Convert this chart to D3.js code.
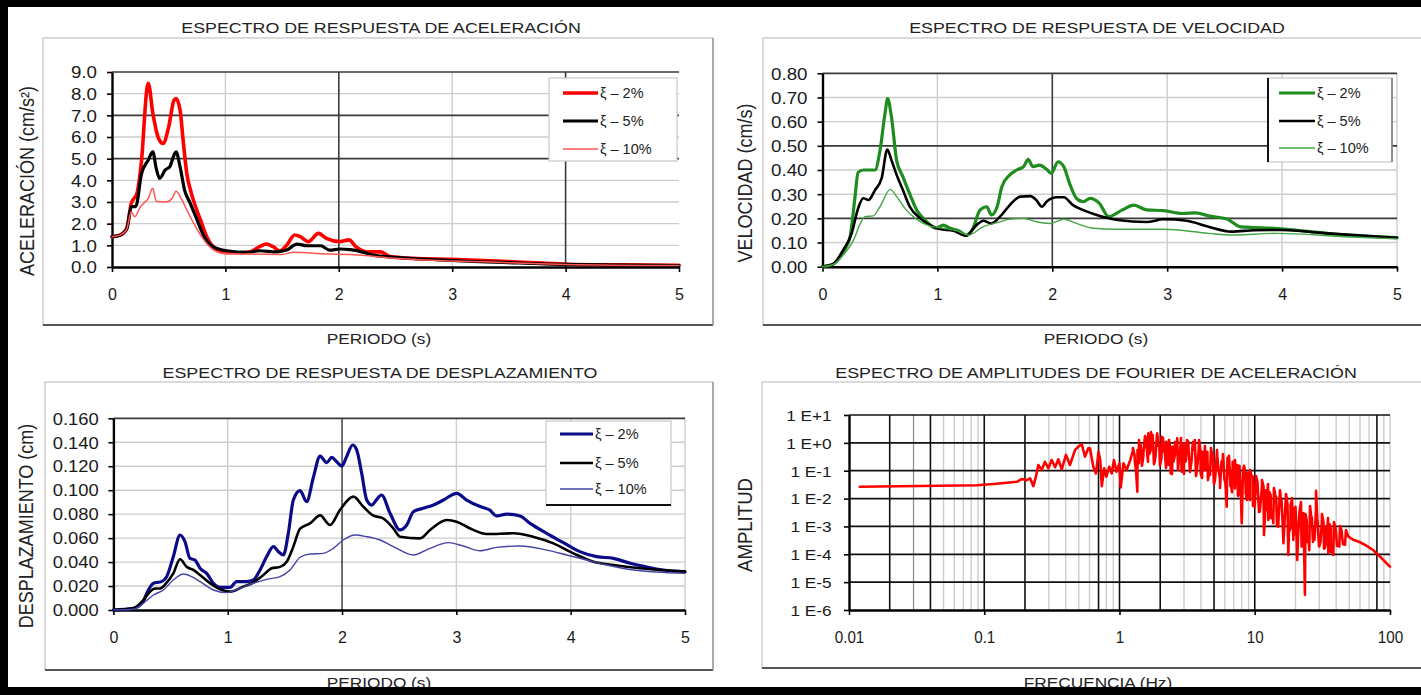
<!DOCTYPE html>
<html>
<head>
<meta charset="utf-8">
<script src="https://cdn.jsdelivr.net/npm/d3@7"></script>
<style>
  html, body { margin: 0; padding: 0; background: #fff; }
  svg { display: block; }
  text { font-family: "Liberation Sans", Arial, sans-serif; fill: #1c1c1c; }
</style>
</head>
<body>
<svg id="chart" width="1421" height="695"></svg>
<script>
// ---------------- data ----------------
const periodTicks = [0, 1, 2, 3, 4, 5];
const periodTickLabels = ["0", "1", "2", "3", "4", "5"];
const accTicks = [0, 1, 2, 3, 4, 5, 6, 7, 8, 9];
const accTickLabels = ["0.0", "1.0", "2.0", "3.0", "4.0", "5.0", "6.0", "7.0", "8.0", "9.0"];
const velTicks = [0, 0.1, 0.2, 0.3, 0.4, 0.5, 0.6, 0.7, 0.8];
const velTickLabels = ["0.00", "0.10", "0.20", "0.30", "0.40", "0.50", "0.60", "0.70", "0.80"];
const disTicks = [0, 0.02, 0.04, 0.06, 0.08, 0.10, 0.12, 0.14, 0.16];
const disTickLabels = ["0.000", "0.020", "0.040", "0.060", "0.080", "0.100", "0.120", "0.140", "0.160"];
const freqTicks = [0.01, 0.1, 1, 10, 100];
const freqTickLabels = ["0.01", "0.1", "1", "10", "100"];
const ampTicks = [1e-6, 1e-5, 1e-4, 1e-3, 1e-2, 1e-1, 1, 10];
const ampTickLabels = ["1 E-6", "1 E-5", "1 E-4", "1 E-3", "1 E-2", "1 E-1", "1 E+0", "1 E+1"];
const dampingLabels = ["ξ – 2%", "ξ – 5%", "ξ – 10%"];

// Spectral acceleration (cm/s²) vs period (s)
const acc2 = [[0,1.40],[0.07,1.47],[0.13,1.78],[0.17,2.94],[0.22,3.4],[0.26,4.9],[0.31,8.3],[0.32,8.48],[0.36,7.1],[0.41,5.94],[0.45,5.7],[0.50,6.47],[0.547,7.7],[0.565,7.78],[0.60,7.25],[0.63,5.7],[0.66,4.3],[0.70,3.4],[0.78,2.17],[0.835,1.4],[0.91,0.86],[1.01,0.66],[1.13,0.66],[1.22,0.7],[1.30,0.94],[1.36,1.06],[1.42,0.94],[1.48,0.74],[1.54,1.0],[1.61,1.48],[1.66,1.40],[1.73,1.17],[1.82,1.55],[1.89,1.32],[2.01,1.17],[2.09,1.25],[2.15,0.94],[2.25,0.7],[2.37,0.7],[2.45,0.48],[2.65,0.4],[3.0,0.35],[3.5,0.25],[4.0,0.13],[4.5,0.1],[5.0,0.08]];
const acc5 = [[0,1.40],[0.07,1.47],[0.13,1.75],[0.17,2.78],[0.21,2.8],[0.26,4.3],[0.32,4.94],[0.36,5.32],[0.39,4.55],[0.42,4.09],[0.47,4.48],[0.51,4.63],[0.547,5.17],[0.565,5.32],[0.60,4.63],[0.64,3.55],[0.69,2.94],[0.75,2.17],[0.805,1.48],[0.89,0.94],[1.01,0.75],[1.2,0.68],[1.30,0.75],[1.45,0.7],[1.54,0.78],[1.63,1.06],[1.72,0.98],[1.84,0.98],[1.92,0.78],[2.01,0.83],[2.1,0.8],[2.2,0.7],[2.3,0.55],[2.5,0.45],[3.0,0.3],[3.5,0.2],[4.0,0.12],[5.0,0.07]];
const acc10 = [[0,1.40],[0.07,1.47],[0.13,1.75],[0.17,2.55],[0.20,2.32],[0.25,2.78],[0.32,3.17],[0.36,3.63],[0.39,3.02],[0.48,3.0],[0.53,3.17],[0.565,3.5],[0.61,3.17],[0.66,2.63],[0.72,2.02],[0.78,1.48],[0.86,0.94],[0.98,0.63],[1.2,0.6],[1.5,0.58],[1.6,0.68],[1.9,0.6],[2.1,0.58],[2.3,0.5],[2.5,0.4],[3.0,0.28],[3.5,0.2],[4.0,0.12],[5.0,0.07]];

// Spectral velocity (cm/s) vs period (s)
const vel2 = [[0,0],[0.09,0.01],[0.18,0.06],[0.24,0.124],[0.28,0.276],[0.31,0.39],[0.355,0.40],[0.457,0.40],[0.50,0.48],[0.544,0.634],[0.567,0.695],[0.60,0.62],[0.645,0.44],[0.70,0.372],[0.76,0.30],[0.82,0.234],[0.906,0.186],[0.99,0.159],[1.05,0.172],[1.11,0.159],[1.20,0.145],[1.25,0.131],[1.31,0.159],[1.37,0.234],[1.43,0.248],[1.47,0.214],[1.52,0.248],[1.56,0.33],[1.63,0.38],[1.69,0.40],[1.75,0.414],[1.79,0.444],[1.83,0.414],[1.89,0.42],[1.95,0.403],[1.99,0.386],[2.05,0.434],[2.10,0.414],[2.15,0.345],[2.21,0.283],[2.27,0.269],[2.33,0.283],[2.41,0.262],[2.49,0.207],[2.61,0.235],[2.71,0.255],[2.82,0.235],[2.97,0.232],[3.13,0.22],[3.25,0.223],[3.36,0.21],[3.52,0.197],[3.64,0.165],[3.96,0.158],[4.55,0.131],[5.0,0.12]];
const vel5 = [[0,0],[0.09,0.01],[0.18,0.069],[0.254,0.138],[0.31,0.241],[0.355,0.283],[0.40,0.276],[0.457,0.317],[0.515,0.366],[0.564,0.485],[0.60,0.441],[0.645,0.38],[0.70,0.317],[0.76,0.248],[0.85,0.20],[0.936,0.172],[1.02,0.156],[1.14,0.149],[1.25,0.128],[1.34,0.172],[1.40,0.19],[1.47,0.179],[1.545,0.207],[1.63,0.255],[1.72,0.29],[1.81,0.292],[1.86,0.276],[1.91,0.248],[1.95,0.269],[2.04,0.287],[2.10,0.287],[2.18,0.255],[2.27,0.234],[2.36,0.218],[2.49,0.20],[2.57,0.193],[2.82,0.185],[2.97,0.196],[3.17,0.19],[3.36,0.165],[3.56,0.145],[3.76,0.151],[4.0,0.152],[4.36,0.139],[5.0,0.12]];
const vel10 = [[0,0],[0.09,0.008],[0.18,0.048],[0.27,0.11],[0.33,0.179],[0.37,0.207],[0.44,0.21],[0.50,0.248],[0.59,0.32],[0.645,0.29],[0.73,0.234],[0.82,0.196],[0.936,0.168],[1.05,0.159],[1.17,0.148],[1.27,0.131],[1.40,0.166],[1.52,0.182],[1.63,0.197],[1.75,0.20],[1.86,0.186],[1.98,0.179],[2.10,0.196],[2.21,0.179],[2.36,0.159],[2.57,0.155],[2.97,0.155],[3.36,0.138],[3.56,0.131],[3.96,0.138],[4.55,0.124],[5.0,0.115]];

// Spectral displacement (cm) vs period (s)
const dis2 = [[0,0],[0.174,0.0014],[0.25,0.0056],[0.306,0.0167],[0.35,0.0223],[0.42,0.0237],[0.466,0.0278],[0.524,0.0445],[0.583,0.0626],[0.626,0.057],[0.67,0.043],[0.714,0.0417],[0.758,0.0348],[0.816,0.0306],[0.875,0.0223],[0.933,0.0189],[1.02,0.0189],[1.078,0.0237],[1.166,0.0237],[1.224,0.025],[1.283,0.0334],[1.34,0.0445],[1.40,0.0529],[1.443,0.0487],[1.487,0.046],[1.53,0.064],[1.574,0.0918],[1.633,0.0996],[1.69,0.0904],[1.75,0.111],[1.808,0.1285],[1.866,0.123],[1.91,0.1274],[1.953,0.1238],[1.997,0.120],[2.04,0.128],[2.093,0.1377],[2.128,0.1336],[2.172,0.114],[2.216,0.0918],[2.26,0.0876],[2.30,0.0918],[2.345,0.096],[2.42,0.0807],[2.507,0.0668],[2.566,0.071],[2.624,0.082],[2.71,0.0849],[2.80,0.0876],[2.887,0.0918],[3.003,0.0974],[3.09,0.0918],[3.208,0.0863],[3.29,0.0835],[3.353,0.0785],[3.44,0.080],[3.557,0.0785],[3.645,0.0723],[3.79,0.064],[3.936,0.0562],[4.08,0.0487],[4.228,0.0445],[4.374,0.0431],[4.52,0.039],[4.66,0.036],[4.81,0.0334],[5.0,0.032]];
const dis5 = [[0,0],[0.174,0.0014],[0.262,0.0083],[0.32,0.0153],[0.364,0.018],[0.408,0.018],[0.466,0.0228],[0.524,0.0306],[0.583,0.0423],[0.641,0.036],[0.70,0.0334],[0.758,0.0292],[0.845,0.0223],[0.933,0.0173],[1.02,0.0153],[1.137,0.0195],[1.224,0.0228],[1.312,0.0292],[1.385,0.0348],[1.458,0.036],[1.516,0.0403],[1.574,0.0529],[1.633,0.068],[1.72,0.0723],[1.808,0.079],[1.895,0.071],[1.982,0.0835],[2.099,0.0946],[2.186,0.0863],[2.27,0.079],[2.36,0.0765],[2.45,0.068],[2.507,0.0612],[2.682,0.0598],[2.77,0.0668],[2.916,0.0751],[3.003,0.0737],[3.12,0.068],[3.266,0.0634],[3.5,0.064],[3.67,0.0612],[3.849,0.0556],[4.024,0.0473],[4.2,0.0403],[4.374,0.0376],[4.607,0.0348],[5.0,0.032]];
const dis10 = [[0,0],[0.174,0.0006],[0.262,0.0056],[0.35,0.0125],[0.437,0.0167],[0.524,0.025],[0.612,0.030],[0.685,0.0278],[0.758,0.0237],[0.875,0.0167],[0.99,0.0145],[1.107,0.018],[1.224,0.0223],[1.34,0.0256],[1.458,0.0278],[1.545,0.0334],[1.633,0.044],[1.72,0.0467],[1.836,0.0473],[1.924,0.0515],[2.01,0.0584],[2.114,0.0626],[2.216,0.0612],[2.333,0.0584],[2.449,0.0529],[2.624,0.0459],[2.77,0.0515],[2.93,0.0562],[3.06,0.0534],[3.208,0.0495],[3.353,0.0523],[3.557,0.0534],[3.79,0.050],[3.966,0.0459],[4.14,0.0417],[4.316,0.0376],[4.549,0.0334],[5.0,0.0306]];

// Fourier amplitude spectrum of acceleration: [frequency (Hz), amplitude]
const fourierCoarse = [[0.012,0.0267],[0.0335,0.0283],[0.088,0.030],[0.117,0.0333],[0.147,0.037],[0.174,0.040],[0.189,0.050],[0.206,0.046],[0.218,0.053],[0.231,0.028],[0.241,0.061],[0.251,0.16],[0.266,0.106],[0.281,0.21],[0.298,0.122],[0.315,0.243],[0.334,0.133],[0.353,0.257],[0.374,0.112],[0.402,0.37],[0.43,0.16],[0.469,0.55],[0.496,0.73],[0.526,0.89],[0.556,0.32],[0.588,0.64],[0.605,0.64],[0.64,0.139],[0.67,0.080],[0.70,0.48],[0.72,0.24],[0.74,0.028],[0.77,0.122],[0.80,0.061],[0.84,0.139],[0.875,0.080],[0.91,0.24],[0.95,0.092],[1.0,0.185],[1.02,0.025],[1.07,0.185],[1.13,0.106],[1.2,0.24],[1.25,0.48],[1.30,0.21],[1.355,0.0177],[1.39,0.185],[1.435,0.84],[1.50,0.32],[1.57,1.46],[1.63,2.2],[1.70,0.55],[1.76,1.9],[1.83,0.24],[1.90,2.2],[1.97,0.73],[2.05,1.66],[2.13,0.48],[2.21,1.1],[2.30,0.16],[2.39,0.080],[2.47,0.73],[2.57,0.37],[2.67,1.46],[2.77,0.32],[2.88,0.092],[3.0,0.96],[3.1,0.24],[3.23,1.1],[3.36,0.139],[3.48,0.96],[3.61,1.27],[3.72,0.092],[3.85,0.55],[3.98,0.080],[4.12,0.48],[4.29,0.106],[4.46,0.48],[4.67,0.070],[4.89,0.37],[5.08,0.046],[5.29,0.32],[5.53,0.053],[5.79,0.24],[6.03,0.046],[6.2,0.0051],[6.38,0.24],[6.64,0.040],[6.87,0.21],[7.14,0.023],[7.43,0.16],[7.69,0.0155],[8.01,0.0013],[8.23,0.106],[8.57,0.0155],[8.87,0.080],[9.22,0.0089],[9.66,0.061],[10.0,0.0051],[10.4,0.046],[10.9,0.0034],[11.3,0.027],[11.7,0.00049],[12.1,0.020],[12.6,0.0017],[13.1,0.0135],[13.7,0.0013],[14.4,0.0117],[14.9,0.00098],[15.6,0.0089],[16.3,0.00025],[16.9,0.0077],[17.7,0.000094],[18.4,0.0059],[19.3,0.00033],[20.0,0.0051],[20.6,0.000062],[21.4,0.0034],[22.2,0.00019],[22.9,0.003],[23.5,0.0000035],[24.2,0.0017],[25.3,0.00014],[26.4,0.0022],[27.4,0.00043],[28.4,0.019],[29.0,0.0017],[30.0,0.00019],[31.3,0.0013],[32.5,0.00016],[33.6,0.00098],[35.0,0.00011],[36.5,0.00086],[38.1,0.000094],[39.9,0.00065],[42.2,0.00019],[44.0,0.00057],[46.5,0.00022],[49.2,0.00043],[53.6,0.00033],[60.0,0.00027],[67.3,0.00020],[75.3,0.00014],[84.4,0.000082],[91.8,0.000054],[100,0.000036]];
// finer readings across the dense 1.2–50 Hz band
const fourierFine = [[1.258,0.65],[1.324,0.106],[1.393,1.27],[1.466,0.15],[1.543,1.76],[1.624,0.21],[1.709,2.45],[1.799,0.17],[1.893,2.08],[1.992,0.15],[2.097,1.49],[2.207,0.125],[2.322,1.27],[2.444,0.076],[2.572,1.07],[2.707,0.106],[2.849,1.49],[2.998,0.076],[3.155,1.27],[3.320,0.090],[3.494,1.07],[3.677,0.065],[3.870,1.27],[4.073,0.055],[4.286,0.77],[4.511,0.046],[4.747,0.65],[4.996,0.033],[5.258,0.55],[5.533,0.024],[5.823,0.40],[6.128,0.020],[6.449,0.34],[6.787,0.017],[7.143,0.24],[7.517,0.0124],[7.911,0.0105],[8.326,0.15],[8.762,0.0089],[9.221,0.106],[9.704,0.0054],[10.21,0.065],[10.75,0.0033],[11.31,0.046],[11.90,0.0022],[12.53,0.033],[13.18,0.0020],[13.87,0.024],[14.60,0.00103],[15.37,0.020],[16.17,0.0007],[17.02,0.0146],[17.91,0.00063],[18.85,0.0105],[19.84,0.00053],[20.88,0.00038],[21.97,0.0075],[23.12,0.00033],[24.33,0.00028],[25.61,0.0054],[26.95,0.00028],[28.36,0.0039],[29.85,0.00020],[31.41,0.0028],[33.06,0.00017],[34.79,0.0020],[36.61,0.00012],[38.53,0.00144],[40.55,0.00020],[42.67,0.00103],[44.91,0.00023],[47.26,0.00074]];
// mid-band readings between the upper and lower edges of the band
const fourierMid = [[1.291,0.37],[1.359,0.55],[1.429,0.29],[1.504,0.47],[1.583,0.77],[1.666,0.40],[1.753,0.91],[1.846,0.34],[1.942,0.77],[2.044,0.29],[2.151,0.65],[2.264,0.24],[2.382,0.55],[2.507,0.21],[2.639,0.65],[2.777,0.24],[2.923,0.77],[3.076,0.21],[3.237,0.65],[3.406,0.21],[3.585,0.55],[3.772,0.17],[3.970,0.47],[4.178,0.125],[4.397,0.34],[4.627,0.106],[4.870,0.29],[5.125,0.076],[5.394,0.106],[5.676,0.21],[5.974,0.046],[6.287,0.29],[6.616,0.028],[6.963,0.21],[7.328,0.033],[7.712,0.15],[8.116,0.020],[8.542,0.090],[8.989,0.0124],[9.460,0.065],[9.955,0.0105],[10.47,0.039],[11.03,0.0064],[11.60,0.028],[12.21,0.0039],[12.85,0.017],[13.52,0.0028],[14.23,0.0124],[14.98,0.0017],[15.77,0.0089],[16.59,0.00122],[17.46,0.0064],[18.37,0.00088],[19.34,0.0046],[20.35,0.00063],[21.42,0.0033],[22.54,0.00045],[23.72,0.0028],[24.96,0.00038],[26.27,0.0020],[27.65,0.00033],[29.09,0.0017],[30.62,0.00028],[32.22,0.00144],[33.92,0.00023],[35.69,0.00122],[37.56,0.00020],[39.53,0.00088],[41.60,0.00020],[43.78,0.00074]];
const fourier = fourierCoarse.concat(fourierFine, fourierMid).sort((a, b) => a[0] - b[0]);

// ---------------- layout ----------------
const svg = d3.select("#chart");
const SX = 1.15; // horizontal text stretch

function putText(g, x, y, str, size, anchor, sx, rotate) {
  return g.append("text")
    .attr("transform", `translate(${x},${y}) scale(${sx},1)` + (rotate ? " rotate(-90)" : ""))
    .attr("text-anchor", anchor)
    .style("font-size", size + "px")
    .text(str);
}

const DARK = "#3a3a3a", LIGHT = "#cdcdcd";

const panels = [
  {
    box: [43, 38, 713, 325],
    title: "ESPECTRO DE RESPUESTA DE ACELERACIÓN", titleX: 381, titleY: 33,
    xTitle: "PERIODO (s)", xTitleX: 379, xTitleY: 344,
    yTitle: "ACELERACIÓN (cm/s²)", yTitleX: 34, yTitleY: 181,
    xType: "lin", xDomain: [0, 5], xRange: [112, 679],
    yType: "lin", yDomain: [0, 9], yRange: [267, 72],
    xTicks: periodTicks, xTickLabels: periodTickLabels,
    yTicks: accTicks, yTickLabels: accTickLabels,
    yLabelRight: 97, xLabelBase: 300, yTickFont: 16.3, xTickFont: 16, xTickSX: 1.0,
    gridXDark: [2, 4], gridXLight: [1, 3],
    gridYDark: [5, 7, 9], gridYLight: [1, 2, 3, 4, 6, 8],
    series: [
      { data: acc2, color: "#ff0000", width: 3.6 },
      { data: acc5, color: "#000000", width: 3.2 },
      { data: acc10, color: "#ff5555", width: 1.5 }
    ],
    legend: { box: [549, 78, 677, 161], rows: [93, 121, 149], lx: [563, 598], tx: 600 }
  },
  {
    box: [763, 38, 1430, 325],
    title: "ESPECTRO DE RESPUESTA DE VELOCIDAD", titleX: 1097, titleY: 33,
    xTitle: "PERIODO (s)", xTitleX: 1096, xTitleY: 344,
    yTitle: "VELOCIDAD (cm/s)", yTitleX: 752, yTitleY: 183,
    xType: "lin", xDomain: [0, 5], xRange: [822.5, 1397],
    yType: "lin", yDomain: [0, 0.8], yRange: [266.7, 73.3],
    xTicks: periodTicks, xTickLabels: periodTickLabels,
    yTicks: velTicks, yTickLabels: velTickLabels,
    yLabelRight: 807.5, xLabelBase: 300, yTickFont: 16.3, xTickFont: 16, xTickSX: 1.0,
    gridXDark: [2], gridXLight: [1, 3, 4, 5],
    gridYDark: [0.2, 0.5, 0.8], gridYLight: [0.1, 0.3, 0.4, 0.6, 0.7],
    series: [
      { data: vel2, color: "#1e8c1e", width: 3.2 },
      { data: vel5, color: "#000000", width: 2.6 },
      { data: vel10, color: "#45a445", width: 1.4 }
    ],
    legend: { box: [1268, 78, 1392, 162], rows: [93, 121, 148], lx: [1279, 1315], tx: 1317, leftDark: true }
  },
  {
    box: [45, 382, 713, 670],
    title: "ESPECTRO DE RESPUESTA DE DESPLAZAMIENTO", titleX: 380, titleY: 378,
    xTitle: "PERIODO (s)", xTitleX: 379, xTitleY: 688,
    yTitle: "DESPLAZAMIENTO (cm)", yTitleX: 33, yTitleY: 526,
    xType: "lin", xDomain: [0, 5], xRange: [113.4, 685],
    yType: "lin", yDomain: [0, 0.16], yRange: [610, 418.3],
    xTicks: periodTicks, xTickLabels: periodTickLabels,
    yTicks: disTicks, yTickLabels: disTickLabels,
    yLabelRight: 98.7, xLabelBase: 643, yTickFont: 16, xTickFont: 16, xTickSX: 1.0,
    gridXDark: [2], gridXLight: [1, 3, 4, 5], gridXDarkColor: "#111", gridXDarkWidth: 1.2,
    gridYDark: [0.16], gridYLight: [0.02, 0.04, 0.06, 0.08, 0.10, 0.12, 0.14],
    series: [
      { data: dis2, color: "#0b0b8a", width: 3.2 },
      { data: dis5, color: "#000000", width: 2.6 },
      { data: dis10, color: "#4444a6", width: 1.4 }
    ],
    legend: { box: [546, 421, 671, 505], rows: [434, 463, 489], lx: [560, 593], tx: 595, bottomDark: true }
  },
  {
    box: [762, 382, 1430, 668],
    title: "ESPECTRO DE AMPLITUDES DE FOURIER DE ACELERACIÓN", titleX: 1096, titleY: 378,
    xTitle: "FRECUENCIA (Hz)", xTitleX: 1098, xTitleY: 688,
    yTitle: "AMPLITUD", yTitleX: 752, yTitleY: 525, yTitleSize: 18.6,
    xType: "log", xDomain: [0.01, 100], xRange: [849, 1390],
    yType: "log", yDomain: [1e-6, 10], yRange: [610, 415],
    xTicks: freqTicks, xTickLabels: freqTickLabels,
    yTicks: ampTicks, yTickLabels: ampTickLabels,
    yLabelRight: 831.7, xLabelBase: 643, yTickFont: 15, xTickFont: 16, xTickSX: 0.95,
    gridXDark: [0.02, 0.04, 0.1, 0.2, 0.7, 1, 2, 5, 10, 80],
    gridXMid: [0.03],
    gridXLight: [0.05, 0.06, 0.07, 0.08, 0.09, 0.3, 0.4, 0.5, 0.6, 0.8, 0.9, 3, 4, 6, 7, 8, 9, 20, 30, 40, 50, 60, 70, 90, 100],
    gridYDark: [1e-5, 1e-4, 1e-3, 1e-2, 1e-1, 1, 10], gridYLight: [],
    gridYDarkColor: "#111", gridXDarkColor: "#111",
    series: [ { data: fourier, color: "#ff0000", width: 2.6, linear: true } ]
  }
];

function drawPanel(p) {
  const g = svg.append("g");
  const [bx0, by0, bx1, by1] = p.box;

  // chart frame with a soft shadow on the lower edge
  g.append("rect").attr("x", bx0).attr("y", by0).attr("width", bx1 - bx0).attr("height", by1 - by0)
    .attr("fill", "#fff").attr("stroke", "#c2c2c2").attr("stroke-width", 1.2);
  g.append("line").attr("x1", bx0).attr("x2", bx1).attr("y1", by1).attr("y2", by1)
    .attr("stroke", "#555").attr("stroke-width", 2.2);
  g.append("line").attr("x1", bx1).attr("x2", bx1).attr("y1", by0).attr("y2", by1)
    .attr("stroke", "#9a9a9a").attr("stroke-width", 1.5);

  putText(g, p.titleX, p.titleY, p.title, 15.5, "middle", SX).style("fill", "#222");
  putText(g, p.xTitleX, p.xTitleY, p.xTitle, 15, "middle", SX).style("fill", "#222");
  putText(g, p.yTitleX, p.yTitleY, p.yTitle, p.yTitleSize || 18, "middle", 1.1, true).style("fill", "#222");

  const x = (p.xType === "log" ? d3.scaleLog() : d3.scaleLinear()).domain(p.xDomain).range(p.xRange);
  const y = (p.yType === "log" ? d3.scaleLog() : d3.scaleLinear()).domain(p.yDomain).range(p.yRange);
  const [px0, px1] = p.xRange, [py0, py1] = p.yRange;

  // gridlines
  const grid = g.append("g");
  const hLine = (vals, color, w) => grid.selectAll(null).data(vals).join("line")
    .attr("x1", px0).attr("x2", px1).attr("y1", d => y(d)).attr("y2", d => y(d))
    .attr("stroke", color).attr("stroke-width", w);
  const vLine = (vals, color, w) => grid.selectAll(null).data(vals).join("line")
    .attr("x1", d => x(d)).attr("x2", d => x(d)).attr("y1", py0).attr("y2", py1)
    .attr("stroke", color).attr("stroke-width", w);
  hLine(p.gridYLight, LIGHT, 1.4);
  vLine(p.gridXLight, LIGHT, 1.4);
  if (p.gridXMid) vLine(p.gridXMid, "#8a8a8a", 1.2);
  vLine(p.gridXDark, p.gridXDarkColor || DARK, p.gridXDarkWidth || 1.6);
  hLine(p.gridYDark, p.gridYDarkColor || DARK, 1.7);

  // axes
  const yAxis = d3.axisLeft(y).tickValues(p.yTicks).tickFormat((d, i) => p.yTickLabels[i])
    .tickSize(5).tickPadding(px0 - p.yLabelRight - 5).tickSizeOuter(0);
  const xAxis = d3.axisBottom(x).tickValues(p.xTicks).tickFormat((d, i) => p.xTickLabels[i])
    .tickSize(5).tickSizeOuter(0);
  const ya = g.append("g").attr("transform", `translate(${px0},0)`).call(yAxis);
  const xa = g.append("g").attr("transform", `translate(0,${py0})`).call(xAxis);
  [ya, xa].forEach(a => {
    a.select(".domain").attr("stroke", "#000").attr("stroke-width", 2.4);
    a.selectAll(".tick line").attr("stroke", "#000").attr("stroke-width", 1.6);
  });
  ya.selectAll(".tick text").each(function () {
    const t = d3.select(this);
    const tx = +t.attr("x");
    t.attr("x", null).attr("dy", "0.36em")
      .attr("transform", `translate(${tx},0) scale(${SX},1)`)
      .style("font-size", p.yTickFont + "px").style("fill", "#1a1a1a")
      .style("font-family", "'Liberation Sans', Arial, sans-serif");
  });
  xa.selectAll(".tick text").each(function () {
    const t = d3.select(this);
    t.attr("y", null).attr("dy", null)
      .attr("transform", `translate(0,${p.xLabelBase - py0}) scale(${p.xTickSX},1)`)
      .style("font-size", p.xTickFont + "px").style("fill", "#1a1a1a")
      .style("font-family", "'Liberation Sans', Arial, sans-serif");
  });

  // series
  const plot = g.append("g");
  p.series.forEach(s => {
    const line = d3.line().x(d => x(d[0])).y(d => y(d[1]))
      .curve(s.linear ? d3.curveLinear : d3.curveMonotoneX);
    plot.append("path").datum(s.data).attr("d", line)
      .attr("fill", "none").attr("stroke", s.color).attr("stroke-width", s.width)
      .attr("stroke-linejoin", "round").attr("stroke-linecap", "round");
  });

  // legend
  if (p.legend) {
    const L = p.legend;
    const lg = g.append("g");
    lg.append("rect").attr("x", L.box[0]).attr("y", L.box[1])
      .attr("width", L.box[2] - L.box[0]).attr("height", L.box[3] - L.box[1])
      .attr("fill", "#fff").attr("stroke", "#c8c8c8").attr("stroke-width", 1.2);
    if (L.leftDark) {
      lg.append("line").attr("x1", L.box[0]).attr("x2", L.box[0]).attr("y1", L.box[1]).attr("y2", L.box[3])
        .attr("stroke", "#111").attr("stroke-width", 2);
      lg.append("line").attr("x1", L.box[2]).attr("x2", L.box[2]).attr("y1", L.box[1]).attr("y2", L.box[3])
        .attr("stroke", "#777").attr("stroke-width", 1.5);
    }
    if (L.bottomDark) {
      lg.append("line").attr("x1", L.box[0]).attr("x2", L.box[2]).attr("y1", L.box[3]).attr("y2", L.box[3])
        .attr("stroke", "#111").attr("stroke-width", 2);
    }
    p.series.forEach((s, i) => {
      lg.append("line").attr("x1", L.lx[0]).attr("x2", L.lx[1]).attr("y1", L.rows[i]).attr("y2", L.rows[i])
        .attr("stroke", s.color).attr("stroke-width", s.width);
      putText(lg, L.tx, L.rows[i] + 5, dampingLabels[i], 14.5, "start", 1.0).style("fill", "#222");
    });
  }
}

panels.forEach(drawPanel);

// outer black frame
const frame = svg.append("g").attr("fill", "#000");
frame.append("rect").attr("x", 0).attr("y", 0).attr("width", 1421).attr("height", 7);
frame.append("rect").attr("x", 0).attr("y", 0).attr("width", 8).attr("height", 695);
frame.append("rect").attr("x", 0).attr("y", 687).attr("width", 1421).attr("height", 8);
</script>
</body>
</html>
